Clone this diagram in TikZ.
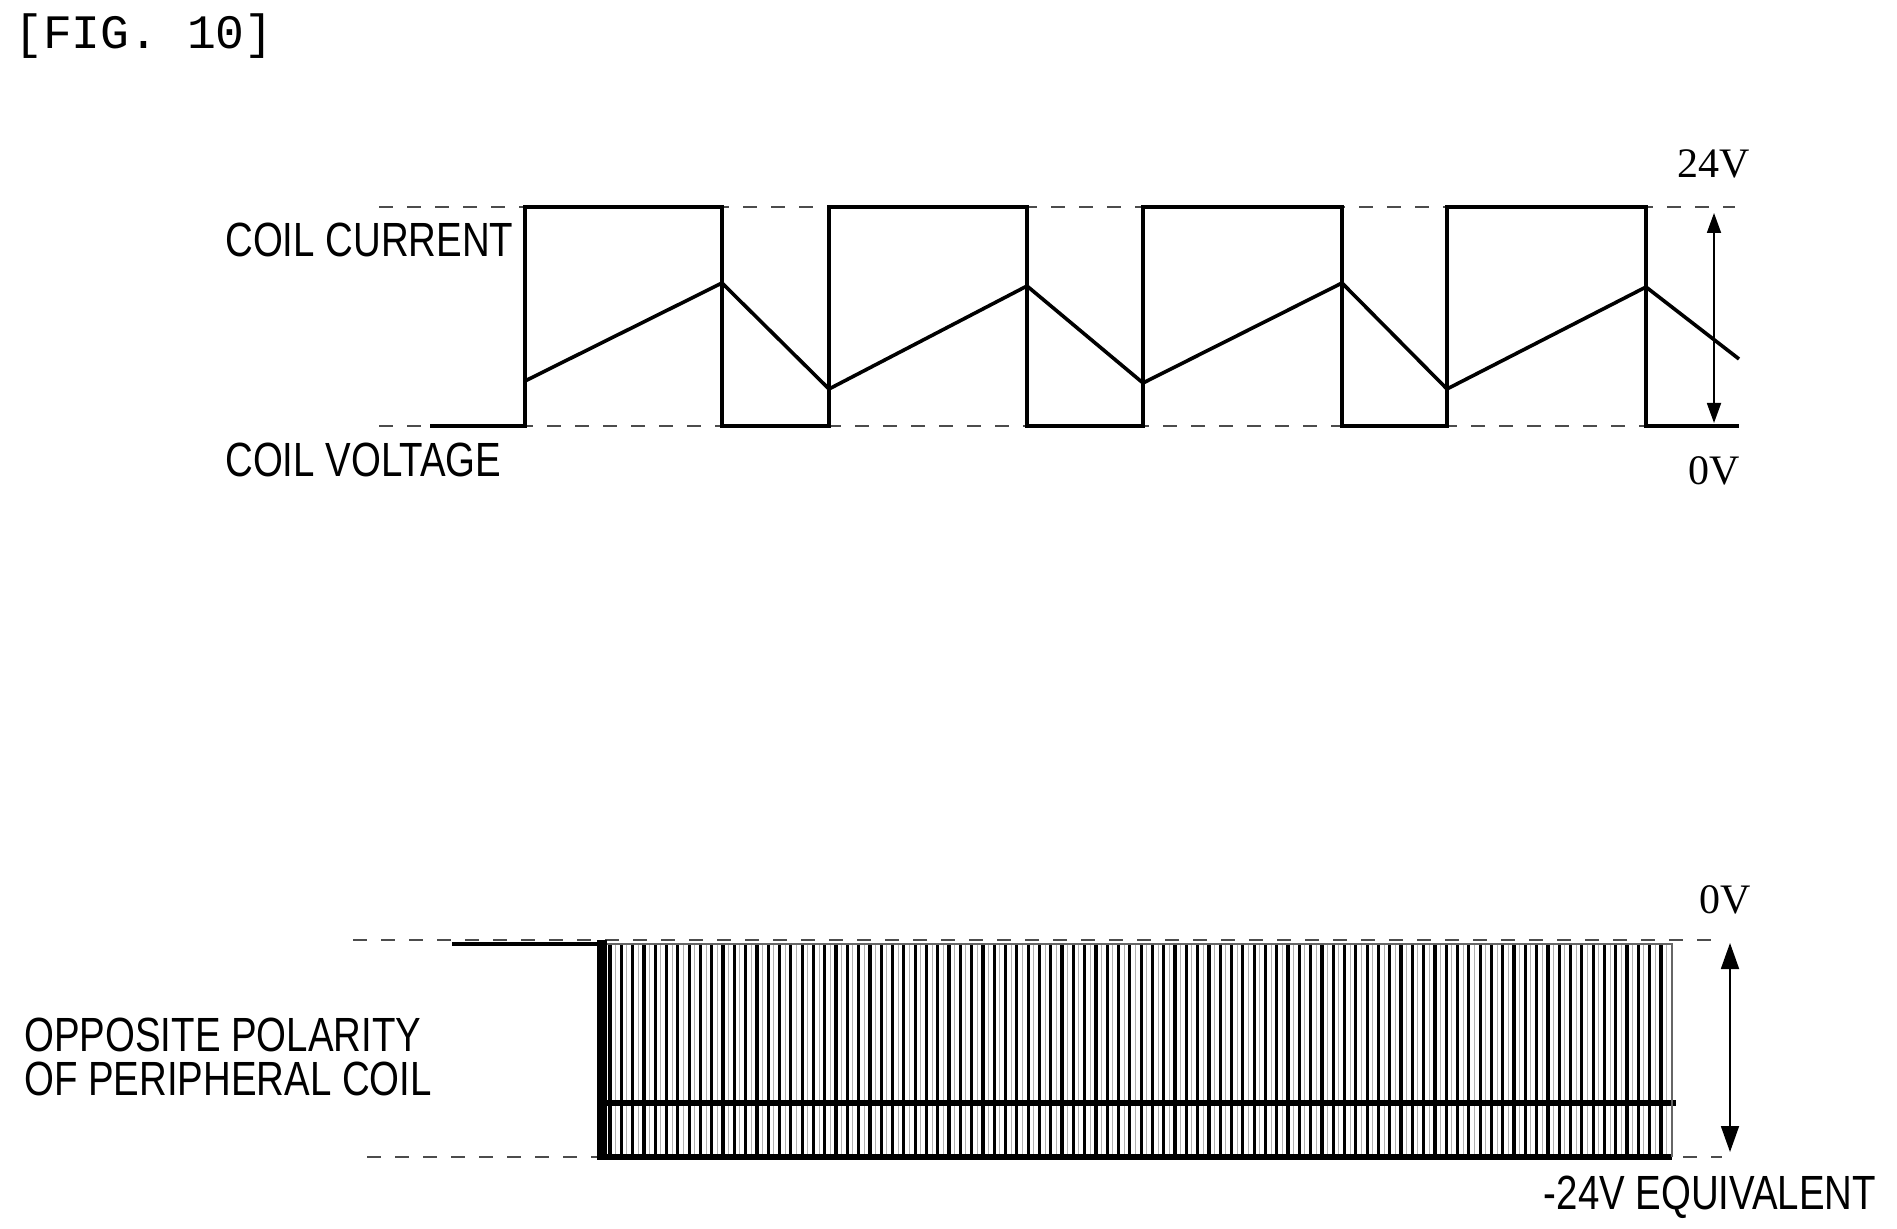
\documentclass[tikz,border=0pt]{standalone}
\usepackage{fontspec}
\setmainfont{Liberation Sans}
\newfontfamily\serifv{Liberation Serif}
\newfontfamily\monof{Liberation Mono}
\usetikzlibrary{arrows.meta}
\begin{document}
\begin{tikzpicture}[x=0.5pt,y=-0.5pt,
  dashln/.style={dash pattern=on 7pt off 7pt,line width=0.6pt,black!70},
  wave/.style={line width=1.8pt,line join=miter},
  lbl/.style={font=\fontsize{24}{28}\selectfont,xscale=0.8,inner sep=0,anchor=west},
  vlbl/.style={font=\serifv\fontsize{21}{24}\selectfont,inner sep=0},
  darr/.style={{Triangle[length=10pt,width=7pt]}-{Triangle[length=10pt,width=7pt]},line width=0.9pt},
  darrb/.style={{Triangle[length=13pt,width=9pt]}-{Triangle[length=13pt,width=9pt]},line width=0.9pt}]
\useasboundingbox (0,0) rectangle (1897,1229);
\node[font=\monof\fontsize{24}{28}\selectfont,anchor=west,inner sep=0] (fig) at (14,36) {[FIG.\ 10]};
\begin{scope}[xshift=-2pt]
\draw[dashln] (383,207) -- (1739,207);
\draw[dashln] (383,426) -- (1739,426);
\draw[wave] (434,426) -- (529,426) -- (529,207) -- (726,207) -- (726,426) -- (833,426) -- (833,207) -- (1031,207) -- (1031,426) -- (1147,426) -- (1147,207) -- (1346,207) -- (1346,426) -- (1451,426) -- (1451,207) -- (1650,207) -- (1650,426) -- (1743,426);
\draw[wave] (529,381) -- (726,283) -- (833,389) -- (1031,286) -- (1147,383) -- (1346,283) -- (1451,389) -- (1650,287) -- (1743,359);
\coordinate (at) at (1718,213); \coordinate (ab) at (1718,423);
\draw[darr] (at) -- (ab);
\node[vlbl] (v24) at (1718,164) {24V};
\node[vlbl] (v0) at (1718,471) {0V};
\end{scope}
\node[lbl] (cc) at (225,240) {COIL CURRENT};
\node[lbl] (cv) at (225,460) {COIL VOLTAGE};
% bottom chart
\draw[dashln] (353,940) -- (1722,940);
\draw[dashln] (367,1157) -- (1722,1157);
\foreach \i in {0,...,93} {
  \draw[black!30,line width=0.5pt] ({610+\i*11.3+5.6},945) -- ({610+\i*11.3+5.6},1155);
  \draw[line width=1.6pt] ({610+\i*11.3},945) -- ({610+\i*11.3},1155);
}
\draw[line width=1.6pt] (452,944) -- (600,944);
\fill (597,940) rectangle (607,1160);
\draw[line width=3pt] (597,1103) -- (1676,1103);
\draw[line width=3pt] (597,1157) -- (1672,1157);
\draw[black!60,line width=1pt] (607,944) -- (1672,944) -- (1672,1157);
\coordinate (bt) at (1730,943); \coordinate (bb) at (1730,1152);
\draw[darrb] (bt) -- (bb);
\node[vlbl] (b0) at (1725,900) {0V};
\node[lbl] (op) at (24,1035) {OPPOSITE POLARITY};
\node[lbl] (of) at (24,1079) {OF PERIPHERAL COIL};
\node[lbl,anchor=center] (eq) at (1710,1197) {-24V EQUIVALENT};
\end{tikzpicture}
\end{document}
